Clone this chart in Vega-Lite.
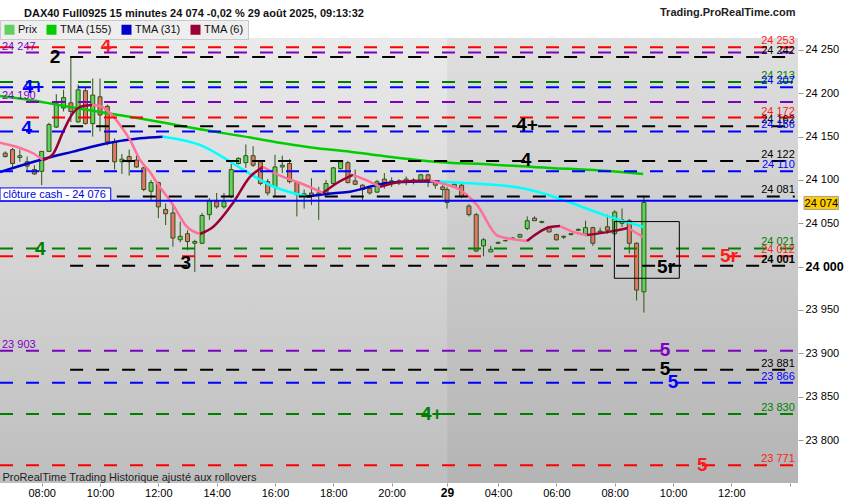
{
"$schema": "https://vega.github.io/schema/vega-lite/v6.json",
"width": 798,
"height": 445,
"autosize": {"type": "none"},
"padding": {"left": 0, "top": 38, "right": 52, "bottom": 17},
"background": "#ffffff",
"title": {"text": "DAX40 Full0925 15 minutes 24 074 -0,02 % 29 août 2025, 09:13:32", "anchor": "start", "dx": 29, "offset": -22, "baseline": "alphabetic", "fontSize": 11, "fontWeight": "bold", "font": "Liberation Sans", "color": "#111111"},
"datasets": {
"seances": [{"jour": "28", "debut": -5.72, "fin": 55.6}, {"jour": "29", "debut": 55.6, "fin": 103.74}],
"bougies": [
{"t": -5, "o": 24131, "h": 24133, "l": 24126, "c": 24127},
{"t": -4, "o": 24135, "h": 24137, "l": 24115, "c": 24119},
{"t": -3, "o": 24126, "h": 24135, "l": 24121, "c": 24128},
{"t": -2, "o": 24121, "h": 24127, "l": 24110, "c": 24116},
{"t": -1, "o": 24112, "h": 24117, "l": 24106, "c": 24107},
{"t": 0, "o": 24110, "h": 24133, "l": 24094, "c": 24133},
{"t": 1, "o": 24133, "h": 24166, "l": 24133, "c": 24164},
{"t": 2, "o": 24161, "h": 24199, "l": 24160, "c": 24188},
{"t": 3, "o": 24183, "h": 24204, "l": 24179, "c": 24195},
{"t": 4, "o": 24189, "h": 24242, "l": 24167, "c": 24179},
{"t": 5, "o": 24167, "h": 24210, "l": 24166, "c": 24204},
{"t": 6, "o": 24203, "h": 24207, "l": 24164, "c": 24165},
{"t": 7, "o": 24165, "h": 24217, "l": 24150, "c": 24198},
{"t": 8, "o": 24196, "h": 24217, "l": 24156, "c": 24175},
{"t": 9, "o": 24185, "h": 24187, "l": 24140, "c": 24144},
{"t": 10, "o": 24144, "h": 24148, "l": 24112, "c": 24121},
{"t": 11, "o": 24121, "h": 24130, "l": 24107, "c": 24124},
{"t": 12, "o": 24127, "h": 24135, "l": 24105, "c": 24121},
{"t": 13, "o": 24123, "h": 24129, "l": 24114, "c": 24115},
{"t": 14, "o": 24114, "h": 24115, "l": 24087, "c": 24089},
{"t": 15, "o": 24087, "h": 24100, "l": 24077, "c": 24097},
{"t": 16, "o": 24097, "h": 24098, "l": 24056, "c": 24069},
{"t": 17, "o": 24066, "h": 24073, "l": 24048, "c": 24061},
{"t": 18, "o": 24062, "h": 24073, "l": 24023, "c": 24033},
{"t": 19, "o": 24031, "h": 24052, "l": 24028, "c": 24035},
{"t": 20, "o": 24038, "h": 24042, "l": 24019, "c": 24029},
{"t": 21, "o": 24027, "h": 24031, "l": 23994, "c": 24029},
{"t": 22, "o": 24027, "h": 24062, "l": 24026, "c": 24059},
{"t": 23, "o": 24060, "h": 24079, "l": 24054, "c": 24076},
{"t": 24, "o": 24075, "h": 24085, "l": 24067, "c": 24069},
{"t": 25, "o": 24069, "h": 24085, "l": 24067, "c": 24075},
{"t": 26, "o": 24081, "h": 24119, "l": 24079, "c": 24112},
{"t": 27, "o": 24119, "h": 24126, "l": 24118, "c": 24125},
{"t": 28, "o": 24120, "h": 24141, "l": 24114, "c": 24128},
{"t": 29, "o": 24128, "h": 24139, "l": 24115, "c": 24117},
{"t": 30, "o": 24121, "h": 24123, "l": 24094, "c": 24096},
{"t": 31, "o": 24098, "h": 24101, "l": 24082, "c": 24085},
{"t": 32, "o": 24092, "h": 24129, "l": 24081, "c": 24115},
{"t": 33, "o": 24115, "h": 24128, "l": 24108, "c": 24117},
{"t": 34, "o": 24119, "h": 24124, "l": 24096, "c": 24098},
{"t": 35, "o": 24097, "h": 24098, "l": 24058, "c": 24083},
{"t": 36, "o": 24082, "h": 24089, "l": 24067, "c": 24084},
{"t": 37, "o": 24085, "h": 24102, "l": 24071, "c": 24082},
{"t": 38, "o": 24082, "h": 24092, "l": 24054, "c": 24085},
{"t": 39, "o": 24083, "h": 24100, "l": 24082, "c": 24096},
{"t": 40, "o": 24096, "h": 24115, "l": 24094, "c": 24114},
{"t": 41, "o": 24113, "h": 24123, "l": 24112, "c": 24121},
{"t": 42, "o": 24120, "h": 24122, "l": 24096, "c": 24097},
{"t": 43, "o": 24099, "h": 24112, "l": 24094, "c": 24095},
{"t": 44, "o": 24094, "h": 24095, "l": 24077, "c": 24089},
{"t": 45, "o": 24090, "h": 24092, "l": 24083, "c": 24085},
{"t": 46, "o": 24086, "h": 24100, "l": 24085, "c": 24098},
{"t": 47, "o": 24101, "h": 24108, "l": 24090, "c": 24097},
{"t": 48, "o": 24097, "h": 24103, "l": 24092, "c": 24099},
{"t": 49, "o": 24099, "h": 24101, "l": 24094, "c": 24098},
{"t": 50, "o": 24101, "h": 24104, "l": 24094, "c": 24097},
{"t": 51, "o": 24100, "h": 24102, "l": 24095, "c": 24099},
{"t": 52, "o": 24098, "h": 24107, "l": 24097, "c": 24106},
{"t": 53, "o": 24106, "h": 24107, "l": 24092, "c": 24098},
{"t": 54, "o": 24098, "h": 24100, "l": 24090, "c": 24094},
{"t": 55, "o": 24092, "h": 24094, "l": 24079, "c": 24089},
{"t": 55.6, "o": 24089, "h": 24092, "l": 24067, "c": 24074},
{"t": 56.6, "o": 24092, "h": 24096, "l": 24092, "c": 24095},
{"t": 57.6, "o": 24094, "h": 24097, "l": 24079, "c": 24081},
{"t": 58.6, "o": 24070, "h": 24072, "l": 24058, "c": 24060},
{"t": 59.6, "o": 24060, "h": 24062, "l": 24017, "c": 24018},
{"t": 60.6, "o": 24024, "h": 24033, "l": 24012, "c": 24031},
{"t": 61.6, "o": 24017, "h": 24024, "l": 24017, "c": 24020},
{"t": 62.6, "o": 24028, "h": 24029, "l": 24026, "c": 24027},
{"t": 63.6, "o": 24030, "h": 24031, "l": 24029, "c": 24030},
{"t": 64.6, "o": 24032, "h": 24034, "l": 24031, "c": 24033},
{"t": 65.6, "o": 24034, "h": 24038, "l": 24033, "c": 24037},
{"t": 66.6, "o": 24044, "h": 24058, "l": 24042, "c": 24053},
{"t": 67.6, "o": 24056, "h": 24058, "l": 24053, "c": 24053},
{"t": 68.6, "o": 24052, "h": 24053, "l": 24050, "c": 24051},
{"t": 69.6, "o": 24046, "h": 24047, "l": 24040, "c": 24040},
{"t": 70.6, "o": 24037, "h": 24038, "l": 24030, "c": 24031},
{"t": 71.6, "o": 24035, "h": 24036, "l": 24032, "c": 24034},
{"t": 72.6, "o": 24038, "h": 24038, "l": 24036, "c": 24037},
{"t": 73.6, "o": 24043, "h": 24044, "l": 24041, "c": 24042},
{"t": 74.6, "o": 24038, "h": 24053, "l": 24035, "c": 24045},
{"t": 75.6, "o": 24045, "h": 24046, "l": 24024, "c": 24027},
{"t": 76.6, "o": 24041, "h": 24045, "l": 24038, "c": 24040},
{"t": 77.6, "o": 24046, "h": 24060, "l": 24038, "c": 24042},
{"t": 78.6, "o": 24038, "h": 24065, "l": 24036, "c": 24063},
{"t": 79.6, "o": 24050, "h": 24067, "l": 24046, "c": 24054},
{"t": 80.6, "o": 24053, "h": 24055, "l": 24015, "c": 24027},
{"t": 81.6, "o": 24027, "h": 24028, "l": 23961, "c": 23973},
{"t": 82.6, "o": 23971, "h": 24082, "l": 23947, "c": 24074}
],
"moyennes": [
{"trace": "TMA (155)", "seg": "m155", "t": -5.72, "v": 24196.9},
{"trace": "TMA (155)", "seg": "m155", "t": -1.19, "v": 24191.7},
{"trace": "TMA (155)", "seg": "m155", "t": 3.47, "v": 24184.8},
{"trace": "TMA (155)", "seg": "m155", "t": 8.0, "v": 24178.5},
{"trace": "TMA (155)", "seg": "m155", "t": 12.5, "v": 24172.3},
{"trace": "TMA (155)", "seg": "m155", "t": 17.2, "v": 24165.4},
{"trace": "TMA (155)", "seg": "m155", "t": 21.7, "v": 24158.5},
{"trace": "TMA (155)", "seg": "m155", "t": 28.6, "v": 24149.0},
{"trace": "TMA (155)", "seg": "m155", "t": 33.1, "v": 24142.3},
{"trace": "TMA (155)", "seg": "m155", "t": 37.8, "v": 24136.6},
{"trace": "TMA (155)", "seg": "m155", "t": 42.3, "v": 24132.7},
{"trace": "TMA (155)", "seg": "m155", "t": 46.8, "v": 24127.7},
{"trace": "TMA (155)", "seg": "m155", "t": 51.5, "v": 24123.1},
{"trace": "TMA (155)", "seg": "m155", "t": 56.0, "v": 24120.0},
{"trace": "TMA (155)", "seg": "m155", "t": 58.8, "v": 24119.0},
{"trace": "TMA (155)", "seg": "m155", "t": 69.7, "v": 24113.9},
{"trace": "TMA (155)", "seg": "m155", "t": 76.6, "v": 24111.0},
{"trace": "TMA (155)", "seg": "m155", "t": 82.5, "v": 24106.9},
{"trace": "TMA (31)", "seg": "m31a", "t": -5.72, "v": 24109.2},
{"trace": "TMA (31)", "seg": "m31a", "t": -0.23, "v": 24123.1},
{"trace": "TMA (31)", "seg": "m31a", "t": 4.3, "v": 24132.7},
{"trace": "TMA (31)", "seg": "m31a", "t": 8.96, "v": 24142.3},
{"trace": "TMA (31)", "seg": "m31a", "t": 13.5, "v": 24148.1},
{"trace": "TMA (31)", "seg": "m31a", "t": 16.6, "v": 24150.0},
{"trace": "TMA (31) en baisse", "seg": "m31b", "t": 16.6, "v": 24150.0},
{"trace": "TMA (31) en baisse", "seg": "m31b", "t": 21.7, "v": 24140.4},
{"trace": "TMA (31) en baisse", "seg": "m31b", "t": 26.2, "v": 24119.3},
{"trace": "TMA (31) en baisse", "seg": "m31b", "t": 28.6, "v": 24106.9},
{"trace": "TMA (31) en baisse", "seg": "m31b", "t": 31.3, "v": 24094.2},
{"trace": "TMA (31) en baisse", "seg": "m31b", "t": 36.35, "v": 24081.0},
{"trace": "TMA (31)", "seg": "m31c", "t": 36.35, "v": 24081.0},
{"trace": "TMA (31)", "seg": "m31c", "t": 40.0, "v": 24084.7},
{"trace": "TMA (31)", "seg": "m31c", "t": 42.3, "v": 24086.5},
{"trace": "TMA (31)", "seg": "m31c", "t": 45.95, "v": 24094.2},
{"trace": "TMA (31)", "seg": "m31c", "t": 47.8, "v": 24096.9},
{"trace": "TMA (31)", "seg": "m31c", "t": 51.4, "v": 24098.1},
{"trace": "TMA (31)", "seg": "m31c", "t": 54.6, "v": 24098.3},
{"trace": "TMA (31) en baisse", "seg": "m31d", "t": 54.6, "v": 24098.3},
{"trace": "TMA (31) en baisse", "seg": "m31d", "t": 57.4, "v": 24096.9},
{"trace": "TMA (31) en baisse", "seg": "m31d", "t": 65.6, "v": 24091.0},
{"trace": "TMA (31) en baisse", "seg": "m31d", "t": 69.5, "v": 24082.7},
{"trace": "TMA (31) en baisse", "seg": "m31d", "t": 72.5, "v": 24074.0},
{"trace": "TMA (31) en baisse", "seg": "m31d", "t": 77.5, "v": 24058.6},
{"trace": "TMA (31) en baisse", "seg": "m31d", "t": 82.5, "v": 24046.1},
{"trace": "TMA (6) en baisse", "seg": "m6a", "t": -5.72, "v": 24143.0},
{"trace": "TMA (6) en baisse", "seg": "m6a", "t": -2.98, "v": 24136.9},
{"trace": "TMA (6) en baisse", "seg": "m6a", "t": -1.19, "v": 24130.8},
{"trace": "TMA (6) en baisse", "seg": "m6a", "t": 0.18, "v": 24123.1},
{"trace": "TMA (6)", "seg": "m6b", "t": 0.18, "v": 24123.1},
{"trace": "TMA (6)", "seg": "m6b", "t": 1.55, "v": 24130.0},
{"trace": "TMA (6)", "seg": "m6b", "t": 2.92, "v": 24155.4},
{"trace": "TMA (6)", "seg": "m6b", "t": 4.29, "v": 24177.3},
{"trace": "TMA (6)", "seg": "m6b", "t": 5.67, "v": 24185.4},
{"trace": "TMA (6)", "seg": "m6b", "t": 6.9, "v": 24186.5},
{"trace": "TMA (6) en baisse", "seg": "m6c", "t": 6.9, "v": 24186.5},
{"trace": "TMA (6) en baisse", "seg": "m6c", "t": 8.0, "v": 24185.4},
{"trace": "TMA (6) en baisse", "seg": "m6c", "t": 9.37, "v": 24177.3},
{"trace": "TMA (6) en baisse", "seg": "m6c", "t": 10.74, "v": 24163.5},
{"trace": "TMA (6) en baisse", "seg": "m6c", "t": 12.11, "v": 24146.2},
{"trace": "TMA (6) en baisse", "seg": "m6c", "t": 13.48, "v": 24123.1},
{"trace": "TMA (6) en baisse", "seg": "m6c", "t": 14.85, "v": 24109.2},
{"trace": "TMA (6) en baisse", "seg": "m6c", "t": 15.82, "v": 24096.5},
{"trace": "TMA (6) en baisse", "seg": "m6c", "t": 18.01, "v": 24071.2},
{"trace": "TMA (6) en baisse", "seg": "m6c", "t": 19.93, "v": 24045.8},
{"trace": "TMA (6) en baisse", "seg": "m6c", "t": 21.71, "v": 24037.7},
{"trace": "TMA (6)", "seg": "m6d", "t": 21.71, "v": 24037.7},
{"trace": "TMA (6)", "seg": "m6d", "t": 23.5, "v": 24045.8},
{"trace": "TMA (6)", "seg": "m6d", "t": 26.24, "v": 24073.5},
{"trace": "TMA (6)", "seg": "m6d", "t": 28.57, "v": 24103.5},
{"trace": "TMA (6)", "seg": "m6d", "t": 30.36, "v": 24115.0},
{"trace": "TMA (6) en baisse", "seg": "m6e", "t": 30.36, "v": 24115.0},
{"trace": "TMA (6) en baisse", "seg": "m6e", "t": 33.1, "v": 24103.5},
{"trace": "TMA (6) en baisse", "seg": "m6e", "t": 35.43, "v": 24096.5},
{"trace": "TMA (6) en baisse", "seg": "m6e", "t": 38.59, "v": 24085.0},
{"trace": "TMA (6)", "seg": "m6f", "t": 38.59, "v": 24085.0},
{"trace": "TMA (6)", "seg": "m6f", "t": 40.51, "v": 24096.5},
{"trace": "TMA (6)", "seg": "m6f", "t": 42.7, "v": 24105.8},
{"trace": "TMA (6) en baisse", "seg": "m6g", "t": 42.7, "v": 24105.8},
{"trace": "TMA (6) en baisse", "seg": "m6g", "t": 45.04, "v": 24097.7},
{"trace": "TMA (6) en baisse", "seg": "m6g", "t": 46.41, "v": 24092.0},
{"trace": "TMA (6)", "seg": "m6h", "t": 46.41, "v": 24092.0},
{"trace": "TMA (6)", "seg": "m6h", "t": 49.15, "v": 24097.7},
{"trace": "TMA (6)", "seg": "m6h", "t": 53.27, "v": 24099.4},
{"trace": "TMA (6) en baisse", "seg": "m6i", "t": 53.27, "v": 24099.4},
{"trace": "TMA (6) en baisse", "seg": "m6i", "t": 54.64, "v": 24096.5},
{"trace": "TMA (6) en baisse", "seg": "m6i", "t": 57.4, "v": 24088.5},
{"trace": "TMA (6) en baisse", "seg": "m6i", "t": 59.7, "v": 24071.2},
{"trace": "TMA (6) en baisse", "seg": "m6i", "t": 62.6, "v": 24035.4},
{"trace": "TMA (6) en baisse", "seg": "m6i", "t": 66.57, "v": 24029.6},
{"trace": "TMA (6)", "seg": "m6j", "t": 66.57, "v": 24029.6},
{"trace": "TMA (6)", "seg": "m6j", "t": 69.73, "v": 24045.8},
{"trace": "TMA (6)", "seg": "m6j", "t": 71.1, "v": 24046.9},
{"trace": "TMA (6) en baisse", "seg": "m6k", "t": 71.1, "v": 24046.9},
{"trace": "TMA (6) en baisse", "seg": "m6k", "t": 73.43, "v": 24038.8},
{"trace": "TMA (6) en baisse", "seg": "m6k", "t": 74.8, "v": 24036.5},
{"trace": "TMA (6)", "seg": "m6l", "t": 74.8, "v": 24036.5},
{"trace": "TMA (6)", "seg": "m6l", "t": 77.95, "v": 24040.4},
{"trace": "TMA (6)", "seg": "m6l", "t": 80.43, "v": 24044.6},
{"trace": "TMA (6) en baisse", "seg": "m6m", "t": 80.43, "v": 24044.6},
{"trace": "TMA (6) en baisse", "seg": "m6m", "t": 82.49, "v": 24034.2}
],
"niveaux": [
{"v": 24253, "couleur": "rouge", "debut": -5.72, "cote": "droite"},
{"v": 24247, "couleur": "violet", "debut": -5.72, "cote": "gauche"},
{"v": 24242, "couleur": "noir", "debut": 3.9, "cote": "droite"},
{"v": 24213, "couleur": "vert", "debut": -5.72, "cote": "droite"},
{"v": 24207, "couleur": "bleu", "debut": -5.72, "cote": "droite"},
{"v": 24190, "couleur": "violet", "debut": -5.72, "cote": "gauche"},
{"v": 24172, "couleur": "rouge", "debut": -5.72, "cote": "droite"},
{"v": 24162, "couleur": "noir", "debut": 3.9, "cote": "droite"},
{"v": 24156, "couleur": "bleu", "debut": -5.72, "cote": "droite"},
{"v": 24122, "couleur": "noir", "debut": 3.9, "cote": "droite"},
{"v": 24110, "couleur": "bleu", "debut": -5.72, "cote": "droite"},
{"v": 24081, "couleur": "noir", "debut": 10.3, "cote": "droite"},
{"v": 24021, "couleur": "vert", "debut": -5.72, "cote": "droite"},
{"v": 24012, "couleur": "rouge", "debut": -5.72, "cote": "droite"},
{"v": 24001, "couleur": "noir", "debut": 3.9, "cote": "droite"},
{"v": 23903, "couleur": "violet", "debut": -5.72, "cote": "gauche"},
{"v": 23881, "couleur": "noir", "debut": 3.9, "cote": "droite"},
{"v": 23866, "couleur": "bleu", "debut": -5.72, "cote": "droite"},
{"v": 23830, "couleur": "vert", "debut": -5.72, "cote": "droite"},
{"v": 23771, "couleur": "rouge", "debut": -5.72, "cote": "droite"}
],
"etiquettes": [
{"txt": "2", "t": 1.82, "v": 24242, "couleur": "noir"},
{"txt": "4", "t": 8.82, "v": 24254, "couleur": "rouge"},
{"txt": "4+", "t": -1.15, "v": 24207.7, "couleur": "bleu"},
{"txt": "4", "t": -2.06, "v": 24160, "couleur": "bleu"},
{"txt": "4", "t": -0.18, "v": 24020.4, "couleur": "vert"},
{"txt": "3", "t": 19.75, "v": 24004, "couleur": "noir"},
{"txt": "4+", "t": 66.57, "v": 24163.5, "couleur": "noir"},
{"txt": "4", "t": 66.43, "v": 24123, "couleur": "noir"},
{"txt": "5r", "t": 85.64, "v": 24000, "couleur": "noir"},
{"txt": "5r", "t": 94.28, "v": 24012.3, "couleur": "rouge"},
{"txt": "5", "t": 85.5, "v": 23903.8, "couleur": "violet"},
{"txt": "5", "t": 85.5, "v": 23881.9, "couleur": "noir"},
{"txt": "5", "t": 86.6, "v": 23866.9, "couleur": "bleu"},
{"txt": "4+", "t": 53.5, "v": 23830, "couleur": "vert"},
{"txt": "5", "t": 90.6, "v": 23771, "couleur": "rouge"}
],
"cloture": [{"libelle": "clôture cash -  24 076", "v": 24076}],
"cadre": [{"debut": 78.55, "fin": 87.46, "haut": 24052, "bas": 23986.6}],
"dernier": [{"prix": 24074}]
},
"layer": [
{"data": {"name": "seances"}, "transform": [{"filter": "datum.jour == '28'"}],
 "mark": {"type": "rect", "fill": {"gradient": "linear", "x1": 0, "y1": 0, "x2": 0, "y2": 1, "stops": [{"offset": 0, "color": "#eaeaea"}, {"offset": 1, "color": "#bebebe"}]}},
 "encoding": {
  "x": {"field": "debut", "type": "quantitative", "scale": {"domain": [-5.72, 103.74], "nice": false, "zero": false, "padding": 0},
   "axis": {"values": [0, 8, 16, 24, 32, 40, 48, 55.6, 62.6, 70.6, 78.6, 86.6, 94.6, 102.6],
    "labelExpr": "datum.value < 50 ? format(8 + datum.value / 4, '02d') + ':00' : datum.value < 60 ? '29' : datum.value > 100 ? '' : format(round(4 + (datum.value - 62.6) / 4), '02d') + ':00'",
    "grid": false, "domain": false, "tickSize": 3, "tickColor": "#999999", "labelFontSize": {"condition": {"test": "datum.value > 55 && datum.value < 56", "value": 12}, "value": 11},
    "labelFontWeight": {"condition": {"test": "datum.value > 55 && datum.value < 56", "value": "bold"}, "value": "normal"},
    "labelColor": "#000000", "labelPadding": 1, "labelFont": "Liberation Sans",
    "title": "ProRealTime Trading  Historique ajusté aux rollovers", "titleX": 2, "titleY": -3, "titleAlign": "left", "titleAnchor": "start", "titleBaseline": "alphabetic", "titleFontSize": 11, "titleFontWeight": "normal", "titleColor": "#222222", "titleFont": "Liberation Sans", "zindex": 1}},
  "x2": {"field": "fin"},
  "y": {"datum": 23750.4, "type": "quantitative", "scale": {"domain": [23750.4, 24263.8], "nice": false, "zero": false, "padding": 0},
   "axis": {"orient": "right", "values": [23800, 23850, 23900, 23950, 24000, 24050, 24100, 24150, 24200, 24250], "format": ",d", "grid": false, "domain": false, "tickSize": 5, "tickColor": "#999999",
    "labelFontSize": {"condition": {"test": "datum.value == 24000", "value": 12.5}, "value": 11}, "labelFontWeight": {"condition": {"test": "datum.value == 24000", "value": "bold"}, "value": "normal"},
    "labelColor": "#000000", "labelPadding": 2, "labelFont": "Liberation Sans",
    "title": "Trading.ProRealTime.com", "titleAngle": 0, "titleX": -3, "titleY": -23, "titleAlign": "right", "titleBaseline": "alphabetic", "titleFontSize": 11, "titleFontWeight": "bold", "titleColor": "#222222", "titleFont": "Liberation Sans"}},
  "y2": {"datum": 24263.8}}},
{"data": {"name": "seances"}, "transform": [{"filter": "datum.jour == '29'"}],
 "mark": {"type": "rect", "fill": {"gradient": "linear", "x1": 0, "y1": 0, "x2": 0, "y2": 1, "stops": [{"offset": 0, "color": "#dfdfdf"}, {"offset": 1, "color": "#b4b4b4"}]}},
 "encoding": {"x": {"field": "debut", "type": "quantitative"}, "x2": {"field": "fin"},
  "y": {"datum": 23750.4, "type": "quantitative"}, "y2": {"datum": 24263.8}}},
{"data": {"name": "bougies"},
 "mark": {"type": "rule", "color": "#2c5516", "strokeWidth": 1},
 "encoding": {"x": {"field": "t", "type": "quantitative"}, "y": {"field": "l", "type": "quantitative"}, "y2": {"field": "h"}}},
{"data": {"name": "bougies"},
 "mark": {"type": "bar", "size": 4, "stroke": "#2c5516", "strokeWidth": 1},
 "encoding": {"x": {"field": "t", "type": "quantitative", "scale": {"domain": [-5.72, 103.74], "nice": false, "zero": false, "padding": 0}},
  "y": {"field": "o", "type": "quantitative", "scale": {"domain": [23750.4, 24263.8], "nice": false, "zero": false, "padding": 0}}, "y2": {"field": "c"},
  "fill": {"condition": {"test": "datum.c >= datum.o", "value": "#5fd35a"}, "value": "#e8736c"}}},
{"data": {"name": "moyennes"},
 "mark": {"type": "line", "strokeWidth": 2.5, "interpolate": "monotone"},
 "encoding": {"x": {"field": "t", "type": "quantitative"}, "y": {"field": "v", "type": "quantitative"},
  "detail": {"field": "seg", "type": "nominal"},
  "color": {"field": "trace", "type": "nominal",
   "scale": {"domain": ["Prix", "TMA (155)", "TMA (31)", "TMA (6)", "TMA (31) en baisse", "TMA (6) en baisse"], "range": ["#5fcf5f", "#00cc00", "#0000c8", "#990033", "#00ffff", "#ff6f9a"]},
   "legend": {"values": ["Prix", "TMA (155)", "TMA (31)", "TMA (6)"], "title": null, "orient": "none", "legendX": 0, "legendY": -18, "direction": "horizontal",
    "symbolType": "square", "symbolSize": 100, "symbolStrokeWidth": 0, "labelFontSize": 11, "labelColor": "#111111", "labelFont": "Liberation Sans", "labelOffset": 3, "columnPadding": 9, "padding": 4,
    "fillColor": "#eeeeee", "strokeColor": "#c8c8c8",
    "encode": {"symbols": {"update": {"fill": {"scale": "color", "field": "value"}, "opacity": {"value": 1}}}}}}}},
{"data": {"name": "niveaux"},
 "mark": {"type": "rule", "strokeWidth": 2, "strokeDash": [13, 13]},
 "encoding": {"x": {"field": "debut", "type": "quantitative"}, "x2": {"datum": 103.3}, "y": {"field": "v", "type": "quantitative"},
  "stroke": {"field": "couleur", "type": "nominal", "scale": {"domain": ["rouge", "violet", "noir", "vert", "bleu"], "range": ["#ff0000", "#8000c0", "#000000", "#008000", "#0000ff"]}, "legend": null}}},
{"data": {"name": "cloture"},
 "mark": {"type": "rule", "strokeWidth": 2, "color": "#0000ff"},
 "encoding": {"x": {"datum": -5.72, "type": "quantitative"}, "x2": {"datum": 103.74}, "y": {"field": "v", "type": "quantitative"}}},
{"data": {"name": "cloture"},
 "mark": {"type": "rect", "fill": "#ffffff", "stroke": "#0000ff", "strokeWidth": 1},
 "encoding": {"x": {"datum": -5.72, "type": "quantitative"}, "x2": {"datum": 9.47}, "y": {"field": "v", "type": "quantitative"}, "y2": {"datum": 24090.8}}},
{"data": {"name": "cloture"},
 "mark": {"type": "text", "align": "left", "baseline": "alphabetic", "dy": -3, "fontSize": 11, "color": "#0000dd", "font": "Liberation Sans"},
 "encoding": {"x": {"datum": -5.3, "type": "quantitative"}, "y": {"field": "v", "type": "quantitative"}, "text": {"field": "libelle"}}},
{"data": {"name": "niveaux"}, "transform": [{"filter": "datum.cote == 'droite' && datum.v != 24001"}],
 "mark": {"type": "text", "align": "right", "baseline": "alphabetic", "dy": -3, "fontSize": 11, "font": "Liberation Sans"},
 "encoding": {"x": {"datum": 103.3, "type": "quantitative"}, "y": {"field": "v", "type": "quantitative"}, "text": {"field": "v", "type": "quantitative", "format": ",d"},
  "fill": {"field": "couleur", "type": "nominal", "scale": {"domain": ["rouge", "violet", "noir", "vert", "bleu"], "range": ["#ff1a1a", "#8000c0", "#000000", "#008000", "#0000ff"]}, "legend": null}}},
{"data": {"name": "niveaux"}, "transform": [{"filter": "datum.v == 24001"}],
 "mark": {"type": "text", "align": "right", "baseline": "alphabetic", "dy": -3, "fontSize": 11, "fontWeight": "bold", "font": "Liberation Sans"},
 "encoding": {"x": {"datum": 103.3, "type": "quantitative"}, "y": {"field": "v", "type": "quantitative"}, "text": {"field": "v", "type": "quantitative", "format": ",d"},
  "fill": {"field": "couleur", "type": "nominal", "scale": {"domain": ["rouge", "violet", "noir", "vert", "bleu"], "range": ["#ff1a1a", "#8000c0", "#000000", "#008000", "#0000ff"]}, "legend": null}}},
{"data": {"name": "niveaux"}, "transform": [{"filter": "datum.cote == 'gauche'"}],
 "mark": {"type": "text", "align": "left", "baseline": "alphabetic", "dy": -3, "fontSize": 11, "font": "Liberation Sans"},
 "encoding": {"x": {"datum": -5.45, "type": "quantitative"}, "y": {"field": "v", "type": "quantitative"}, "text": {"field": "v", "type": "quantitative", "format": ",d"},
  "fill": {"field": "couleur", "type": "nominal", "scale": {"domain": ["rouge", "violet", "noir", "vert", "bleu"], "range": ["#ff1a1a", "#8000c0", "#000000", "#008000", "#0000ff"]}, "legend": null}}},
{"data": {"name": "etiquettes"},
 "mark": {"type": "text", "align": "center", "baseline": "middle", "fontSize": 19, "fontWeight": "bold", "font": "Liberation Sans"},
 "encoding": {"x": {"field": "t", "type": "quantitative"}, "y": {"field": "v", "type": "quantitative"}, "text": {"field": "txt"},
  "fill": {"field": "couleur", "type": "nominal", "scale": {"domain": ["rouge", "violet", "noir", "vert", "bleu"], "range": ["#ff1a1a", "#8000c0", "#000000", "#008000", "#0000ff"]}, "legend": null}}},
{"data": {"name": "cadre"},
 "mark": {"type": "rect", "fill": null, "fillOpacity": 0, "stroke": "#000000", "strokeWidth": 1},
 "encoding": {"x": {"field": "debut", "type": "quantitative"}, "x2": {"field": "fin"}, "y": {"field": "haut", "type": "quantitative"}, "y2": {"field": "bas"}}},
{"data": {"name": "dernier"},
 "mark": {"type": "rect", "fill": "#ffcc00", "stroke": "#a0a0a0", "strokeWidth": 1},
 "encoding": {"x": {"datum": 104.57, "type": "quantitative"}, "x2": {"datum": 109.3}, "y": {"datum": 24081, "type": "quantitative"}, "y2": {"datum": 24066}}},
{"data": {"name": "dernier"},
 "mark": {"type": "text", "align": "center", "baseline": "middle", "fontSize": 11, "color": "#000000", "font": "Liberation Sans", "dy": 1},
 "encoding": {"x": {"datum": 106.95, "type": "quantitative"}, "y": {"field": "prix", "type": "quantitative"}, "text": {"field": "prix", "type": "quantitative", "format": ",d"}}}
],
"config": {
 "font": "Liberation Sans",
 "locale": {"number": {"decimal": ",", "thousands": " ", "grouping": [3], "currency": ["", " €"]}},
 "view": {"stroke": null}
}
}
